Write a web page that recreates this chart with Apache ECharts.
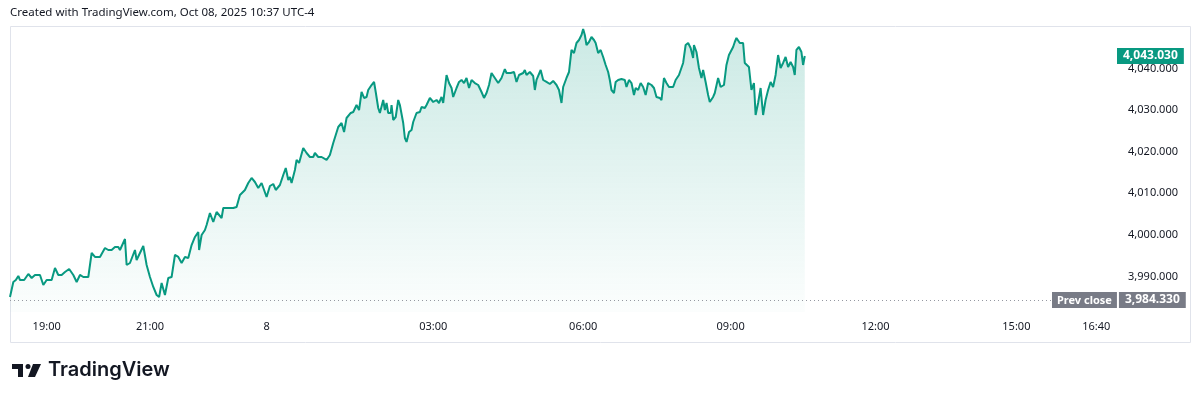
<!DOCTYPE html>
<html>
<head>
<meta charset="utf-8">
<script src="https://cdn.jsdelivr.net/npm/echarts@6/dist/echarts.min.js"></script>
<style>
  html, body { margin: 0; padding: 0; background: #fff; }
  #chart { width: 1200px; height: 401px; }
</style>
</head>
<body>
<div id="chart"></div>
<script>
// bar index (1-min bars from session open) and price
var bars = [
  0, 4, 7, 10, 12, 17, 22, 24, 26, 30, 36, 40, 44, 50, 54, 58, 62, 66, 71, 76,
  80, 84, 88, 94, 98, 102, 108, 110, 114, 118, 122, 126, 130, 132, 138, 140, 144, 150, 152, 156,
  160, 164, 168, 172, 176, 179, 182, 186, 190, 194, 198, 202, 206, 210, 214, 218, 222, 226, 227, 230,
  234, 236, 240, 244, 248, 254, 256, 262, 268, 272, 276, 282, 286, 290, 294, 298, 302, 308, 312, 316,
  319, 324, 328, 331, 334, 336, 338, 342, 344, 347, 352, 356, 360, 364, 366, 370, 374, 380, 384, 388,
  391, 394, 396, 398, 401, 404, 409, 412, 416, 419, 422, 425, 428, 430, 434, 437, 439, 442, 444, 448,
  450, 452, 454, 457, 458, 460, 463, 466, 468, 472, 474, 476, 479, 482, 484, 488, 492, 494, 498, 500,
  504, 508, 512, 515, 518, 520, 524, 527, 530, 532, 536, 539, 542, 545, 548, 551, 554, 558, 562, 566,
  569, 572, 575, 578, 582, 586, 590, 594, 596, 601, 605, 608, 611, 616, 618, 620, 624, 628, 630, 632,
  637, 640, 644, 648, 652, 656, 659, 662, 664, 668, 671, 674, 677, 680, 683, 686, 688, 690, 692, 695,
  698, 701, 703, 706, 709, 712, 715, 718, 720, 722, 725, 727, 730, 734, 738, 740, 743, 746, 749, 751,
  754, 757, 760, 763, 766, 770, 773, 776, 780, 782, 785, 788, 791, 796, 799, 803, 808, 811, 814, 817,
  820, 821, 824, 827, 830, 832, 835, 838, 840, 844, 846, 850, 853, 857, 860, 863, 868, 870, 872, 876,
  880, 882, 884, 887, 890, 893, 895, 898, 901, 904, 907, 910, 913, 916, 919, 922, 925, 928, 931, 934,
  937, 940, 942, 944, 947, 950, 952, 954
];
var prices = [
  3985.05, 3988.66, 3989.14, 3990.11, 3989.14, 3989.14, 3990.59, 3990.59, 3989.62, 3990.35,
  3990.35, 3987.94, 3989.14, 3989.14, 3992.03, 3990.35, 3990.35, 3991.07, 3991.79, 3990.35,
  3988.66, 3990.35, 3989.86, 3989.86, 3995.64, 3994.68, 3994.68, 3994.44, 3996.84, 3996.36,
  3996.36, 3997.08, 3997.08, 3996.36, 3999.01, 3992.75, 3993.23, 3996.36, 3993.96, 3995.64,
  3997.32, 3992.75, 3989.86, 3987.46, 3985.53, 3985.05, 3988.42, 3985.53, 3989.62, 3989.86,
  3995.16, 3994.68, 3993.23, 3994.68, 3994.44, 3997.56, 3999.49, 4000.69, 3996.36, 3999.97,
  4001.17, 4002.38, 4005.26, 4003.10, 4005.50, 4004.06, 4006.47, 4006.47, 4006.47, 4006.71,
  4009.60, 4010.80, 4012.48, 4013.69, 4012.72, 4011.28, 4012.48, 4009.11, 4011.76, 4012.24,
  4010.80, 4012.00, 4014.41, 4016.09, 4013.20, 4013.93, 4012.48, 4015.61, 4018.02, 4017.30,
  4020.90, 4019.70, 4018.74, 4018.74, 4019.70, 4018.74, 4018.74, 4018.02, 4019.22, 4022.11,
  4024.03, 4025.96, 4025.72, 4026.92, 4024.75, 4028.12, 4029.33, 4029.57, 4031.25, 4030.05,
  4034.38, 4032.94, 4033.18, 4034.86, 4036.06, 4036.79, 4034.38, 4030.53, 4029.33, 4032.45,
  4030.05, 4031.73, 4029.33, 4029.33, 4031.25, 4027.64, 4028.36, 4032.45, 4031.25, 4026.92,
  4023.31, 4022.35, 4024.75, 4025.24, 4027.16, 4029.33, 4029.57, 4030.77, 4030.53, 4031.25,
  4032.94, 4031.97, 4032.45, 4031.73, 4033.18, 4031.73, 4038.47, 4036.54, 4035.34, 4033.18,
  4035.34, 4036.79, 4037.27, 4036.54, 4037.75, 4035.34, 4037.27, 4036.54, 4036.06, 4034.38,
  4032.94, 4034.14, 4036.06, 4038.95, 4037.75, 4036.54, 4037.75, 4039.91, 4038.95, 4038.95,
  4039.19, 4036.79, 4038.47, 4038.95, 4039.67, 4038.47, 4039.19, 4038.23, 4034.86, 4037.27,
  4039.67, 4037.27, 4036.79, 4036.30, 4037.03, 4036.06, 4034.86, 4031.73, 4035.58, 4037.75,
  4039.19, 4044.49, 4043.76, 4046.17, 4046.89, 4048.09, 4049.54, 4048.09, 4045.69, 4046.41,
  4047.61, 4046.89, 4046.17, 4043.76, 4044.49, 4042.80, 4040.88, 4039.19, 4037.27, 4034.86,
  4034.14, 4036.79, 4037.27, 4037.51, 4037.27, 4035.58, 4037.27, 4036.54, 4033.66, 4035.34,
  4034.86, 4036.54, 4035.58, 4033.66, 4036.54, 4036.06, 4035.34, 4033.18, 4032.94, 4032.45,
  4037.75, 4036.54, 4035.58, 4035.58, 4037.27, 4038.47, 4041.36, 4045.69, 4046.17, 4044.97,
  4042.56, 4045.69, 4044.00, 4040.15, 4037.75, 4039.67, 4036.79, 4033.66, 4031.97, 4033.18,
  4034.14, 4037.75, 4035.58, 4036.06, 4040.88, 4043.28, 4045.21, 4046.41, 4047.37, 4046.17,
  4046.17, 4041.36, 4041.60, 4040.39, 4034.86, 4036.54, 4028.85, 4031.73, 4035.34, 4028.85,
  4032.45, 4034.86, 4036.79, 4035.58, 4038.47, 4043.28, 4040.15, 4041.36, 4042.80, 4040.39,
  4041.60, 4040.39, 4038.47, 4044.49, 4045.21, 4044.00, 4040.88, 4043.03
];
var prevClose = 3984.33;

// time scale labels (bar index -> label)
var tickBars = [44, 168, 308, 508, 688, 865, 1039, 1208, 1304];
var tickLabels = ['19:00', '21:00', '8', '03:00', '06:00', '09:00', '12:00', '15:00', '16:40'];
var priceTicks = [3990, 4000, 4010, 4020, 4030, 4040];

var green = '#089981';
var fmt = function (v) {
  return v.toLocaleString('en-US', { minimumFractionDigits: 3, maximumFractionDigits: 3 });
};
var lastPrice = prices[prices.length - 1];

var seriesData = [];
for (var i = 0; i < bars.length; i++) {
  seriesData.push([bars[i], prices[i]]);
}

var chart = echarts.init(document.getElementById('chart'));
var font = '"Noto Sans", "DejaVu Sans", sans-serif';

var option = {
  animation: false,
  textStyle: { fontFamily: font },
  grid: { left: 10, right: 87, top: 26, bottom: 89 },
  xAxis: {
    type: 'value',
    min: 0,
    max: 1324,
    axisLine: { show: false },
    axisTick: { show: false },
    splitLine: { show: false },
    axisLabel: {
      customValues: tickBars,
      margin: 9,
      color: '#131722',
      fontSize: 11,
      fontFamily: font,
      formatter: function (v) {
        var k = tickBars.indexOf(v);
        return k >= 0 ? tickLabels[k] : '';
      }
    }
  },
  yAxis: {
    type: 'value',
    position: 'right',
    min: 3981.44,
    max: 4050.26,
    axisLine: { show: false },
    axisTick: { show: false },
    splitLine: { show: false },
    axisLabel: {
      customValues: priceTicks,
      align: 'right',
      margin: 65,
      color: '#131722',
      fontSize: 11,
      fontFamily: font,
      formatter: function (v) { return fmt(v); }
    }
  },
  series: [
    {
      type: 'line',
      data: seriesData,
      showSymbol: false,
      symbol: 'none',
      lineStyle: { color: green, width: 2 },
      itemStyle: { color: green },
      areaStyle: {
        color: new echarts.graphic.LinearGradient(0, 0, 0, 1, [
          { offset: 0, color: 'rgba(8,153,129,0.30)' },
          { offset: 1, color: 'rgba(8,153,129,0.02)' }
        ])
      },
      markLine: {
        silent: true,
        symbol: 'none',
        data: [
          {
            yAxis: prevClose,
            lineStyle: { color: '#9598a1', type: [1, 3], width: 1 },
            label: {
              position: 'end',
              distance: -61,
              formatter: '{a|Prev close}{g|}{b|' + fmt(prevClose) + '}',
              rich: {
                a: { backgroundColor: '#787b86', color: '#fff', fontSize: 11, fontWeight: 'bold', padding: [3, 5, 2, 5], fontFamily: font },
                g: { width: 2 },
                b: { backgroundColor: '#787b86', color: '#fff', fontSize: 12, fontWeight: 'bold', padding: [2, 6, 2, 6], fontFamily: font }
              }
            }
          },
          {
            yAxis: lastPrice,
            lineStyle: { color: 'rgba(0,0,0,0)', width: 0 },
            label: {
              show: true,
              position: 'end',
              distance: 4,
              formatter: fmt(lastPrice),
              backgroundColor: green,
              color: '#fff',
              fontSize: 12,
              fontWeight: 'bold',
              padding: [2, 6, 2, 6],
              fontFamily: font
            }
          }
        ]
      }
    }
  ],
  graphic: [
    {
      type: 'text', left: 10, top: 7,
      style: { text: 'Created with TradingView.com, Oct 08, 2025 10:37 UTC-4', fill: '#131722', font: '11.5px ' + font }
    },
    {
      type: 'rect', shape: { x: 10.5, y: 26.5, width: 1180, height: 316 },
      style: { fill: 'none', stroke: '#e0e3eb', lineWidth: 1 }, z: -1
    },
    {
      type: 'polygon',
      shape: { points: [[12, 364], [23, 364], [23, 377], [18, 377], [18, 369], [12, 369]] },
      style: { fill: '#131722' }
    },
    { type: 'circle', shape: { cx: 28, cy: 366.5, r: 2.5 }, style: { fill: '#131722' } },
    {
      type: 'polygon',
      shape: { points: [[33, 364], [41, 364], [35, 377], [28, 377]] },
      style: { fill: '#131722' }
    },
    {
      type: 'text', left: 48, top: 360,
      style: { text: 'TradingView', fill: '#131722', font: '600 20px Inter, "Noto Sans", sans-serif' }
    }
  ]
};

chart.setOption(option);
</script>
</body>
</html>
